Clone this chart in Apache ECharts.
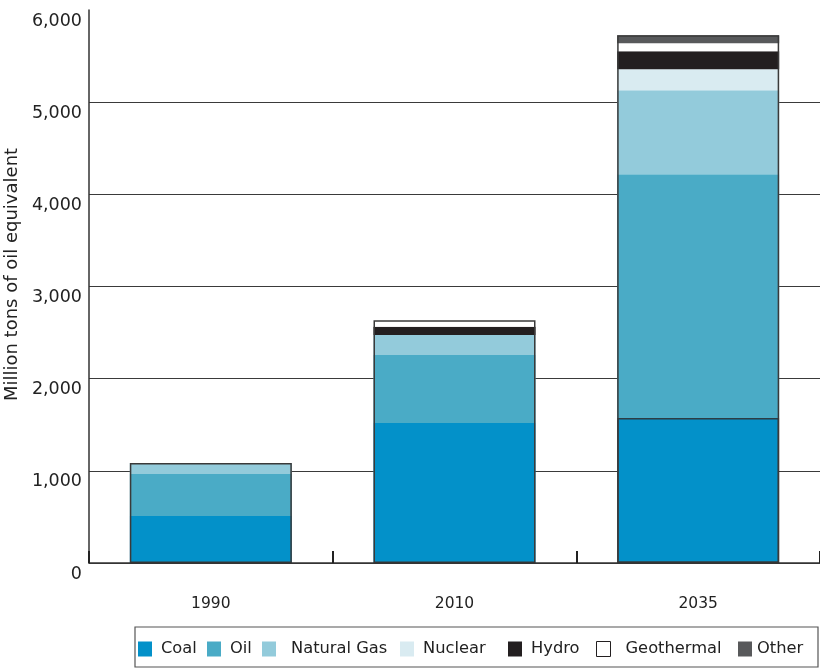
<!DOCTYPE html>
<html>
<head>
<meta charset="utf-8">
<script src="https://cdn.jsdelivr.net/npm/echarts@6/dist/echarts.min.js"></script>
<style>
  html, body { margin: 0; padding: 0; background: #fff; }
  #chart { width: 820px; height: 669px; }
</style>
</head>
<body>
<div id="chart"></div>
<script>
const years = ['1990', '2010', '2035'];
const coal = [510, 1518, 1573];
const oil = [455, 738, 2646];
const gas = [120, 217, 911];
const nuclear = [0, 0, 228];
const hydro = [0, 90, 195];
const geothermal = [0, 72, 87];
const other = [0, 0, 87];
const yTicks = [0, 1000, 2000, 3000, 4000, 5000, 6000];

const font = 'DejaVu Sans';
const layers = [
  { name: 'Coal', data: coal, color: '#0391c9' },
  { name: 'Oil', data: oil, color: '#4aabc6' },
  { name: 'Natural Gas', data: gas, color: '#93cbdb' },
  { name: 'Nuclear', data: nuclear, color: '#d9ebf1' },
  { name: 'Hydro', data: hydro, color: '#231f20' },
  { name: 'Geothermal', data: geothermal, color: '#ffffff' },
  { name: 'Other', data: other, color: '#58595b' }
];
const totals = years.map((_, i) => layers.reduce((s, l) => s + l.data[i], 0));

// legend items sit at uneven spots in the original, so one legend per item
const legendLeft = [138, 207, 262, 400, 508, 596, 738];
const legendPad = [4, 4, 10, 4, 4, 10, 0];

const series = layers.map((l, k) => ({
  name: l.name,
  type: 'bar',
  stack: 'total',
  barWidth: 162,
  itemStyle: { color: l.color },
  data: l.data.map((v, i) => (k === 0 && i === 2)
    ? { value: v, itemStyle: { borderColor: '#2d3d45', borderWidth: 1.5 } }
    : v)
}));
series.push({
  type: 'bar',
  barWidth: 162,
  barGap: '-100%',
  silent: true,
  z: 5,
  itemStyle: { color: 'rgba(0,0,0,0)', borderColor: '#3a3a3a', borderWidth: 1.5 },
  data: totals
});

const chart = echarts.init(document.getElementById('chart'));
chart.setOption({
  animation: false,
  textStyle: { fontFamily: font },
  grid: { left: 89, right: 0, top: 10, bottom: 106, containLabel: false, outerBoundsMode: 'none' },
  legend: layers.map((l, k) => ({
    data: [l.name],
    left: legendLeft[k],
    top: 641,
    padding: 0,
    icon: 'rect',
    itemWidth: 14,
    itemHeight: 15,
    itemStyle: k === 5 ? { borderColor: '#231f20', borderWidth: 1 } : {},
    textStyle: { fontSize: 16.3, color: '#222', fontFamily: font, padding: [8, 0, 0, legendPad[k]] }
  })),
  graphic: [{
    type: 'rect',
    shape: { x: 135, y: 627, width: 683, height: 40 },
    style: { fill: 'none', stroke: '#555', lineWidth: 1.2 }
  }],
  xAxis: {
    type: 'category',
    data: years,
    z: 10,
    axisLine: { lineStyle: { color: '#333', width: 1.5 } },
    axisTick: { show: true, interval: 0, inside: true, length: 12, lineStyle: { color: '#222', width: 2 } },
    axisLabel: { margin: 33, fontSize: 15.5, color: '#222', fontFamily: font }
  },
  yAxis: {
    type: 'value',
    min: yTicks[0],
    max: yTicks[yTicks.length - 1],
    interval: 1000,
    name: 'Million tons of oil equivalent',
    nameLocation: 'middle',
    nameGap: 66,
    nameTextStyle: { fontSize: 18, color: '#222', fontFamily: font, padding: [0, 0, 0, 24] },
    axisLine: { show: true, lineStyle: { color: '#333', width: 1.5 } },
    axisTick: { show: false },
    axisLabel: {
      margin: 7,
      fontSize: 17.5,
      color: '#222',
      fontFamily: font,
      verticalAlign: 'top',
      padding: [2, 0, 0, 0],
      formatter: v => v.toLocaleString('en-US')
    },
    splitLine: { show: true, showMaxLine: false, lineStyle: { color: '#3a3a3a', width: 1.2 } }
  },
  series: series
});
</script>
</body>
</html>
